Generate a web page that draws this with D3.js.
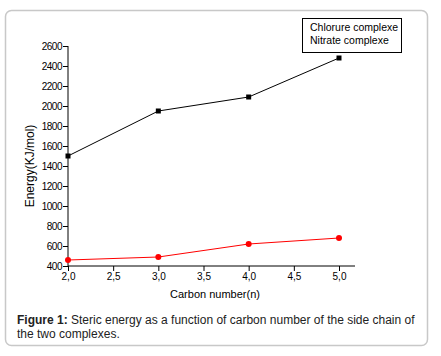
<!DOCTYPE html>
<html>
<head>
<meta charset="utf-8">
<script src="https://cdn.jsdelivr.net/npm/d3@7"></script>
<style>
  body { margin: 0; background: #fff; }
  svg { display: block; font-family: "Liberation Sans", Arial, sans-serif; }
</style>
</head>
<body>
<div id="chart"></div>
<script>
// carbon number of the side chain
const carbon = [2, 3, 4, 5];
// steric energy (KJ/mol)
const chlorure = [1500, 1950, 2090, 2480];
const nitrate = [460, 490, 620, 680];
const seriesNames = ["Chlorure complexe", "Nitrate complexe"];
const xTicks = [2, 2.5, 3, 3.5, 4, 4.5, 5];
const yTicks = [400, 600, 800, 1000, 1200, 1400, 1600, 1800, 2000, 2200, 2400, 2600];

const width = 441, height = 356;
const fmtX = d => d3.format(".1f")(d).replace(".", ",");

const svg = d3.select("#chart").append("svg")
    .attr("width", width)
    .attr("height", height);

// outer frame
svg.append("rect")
    .attr("x", 5.5).attr("y", 10.5)
    .attr("width", 422).attr("height", 335)
    .attr("rx", 6)
    .attr("fill", "#fff")
    .attr("stroke", "#c8c8c8")
    .attr("stroke-width", 1.5);

const x = d3.scaleLinear().domain([2, 5]).range([68, 339]);
const y = d3.scaleLinear().domain([400, 2600]).range([266, 46]);

// x axis
const xAxis = svg.append("g").attr("transform", "translate(0,266)");
xAxis.call(d3.axisBottom(x).tickValues(d3.range(2, 5.01, 0.25)).tickSize(3).tickFormat(""))
    .call(g => g.select(".domain").remove());
xAxis.call(d3.axisBottom(x).tickValues(xTicks).tickSize(5).tickPadding(2).tickFormat(fmtX))
    .call(g => g.selectAll("text").attr("font-size", 10).attr("fill", "#000").attr("font-family", "Liberation Sans, Arial, sans-serif"));
xAxis.select(".domain").attr("d", `M${x(2)},0H${x(5) + 16}`);

// y axis
const yAxis = svg.append("g").attr("transform", "translate(68,0)");
yAxis.call(d3.axisLeft(y).tickValues(d3.range(400, 2601, 100)).tickSize(3).tickFormat(""))
    .call(g => g.select(".domain").remove());
yAxis.call(d3.axisLeft(y).tickValues(yTicks).tickSize(5).tickPadding(1).tickFormat(d3.format("d")))
    .call(g => g.selectAll("text").attr("font-size", 10).attr("fill", "#000").attr("letter-spacing", -0.5).attr("font-family", "Liberation Sans, Arial, sans-serif"));
yAxis.select(".domain").attr("d", `M0,${y(400)}V${y(2600)}`);
svg.selectAll(".tick line").attr("stroke", "#000");
svg.selectAll(".domain").attr("stroke", "#000");

// axis titles
svg.append("text")
    .attr("x", 215).attr("y", 298)
    .attr("text-anchor", "middle")
    .attr("font-size", 11)
    .text("Carbon number(n)");
svg.append("text")
    .attr("transform", "translate(34,166) rotate(-90)")
    .attr("text-anchor", "middle")
    .attr("font-size", 12)
    .text("Energy(KJ/mol)");

// lines
const line = d3.line().x(d => x(d[0])).y(d => y(d[1]));
const black = carbon.map((c, i) => [c, chlorure[i]]);
const red = carbon.map((c, i) => [c, nitrate[i]]);

svg.append("path").datum(black)
    .attr("d", line).attr("fill", "none").attr("stroke", "#000").attr("stroke-width", 1);
svg.append("path").datum(red)
    .attr("d", line).attr("fill", "none").attr("stroke", "#ff0000").attr("stroke-width", 1);

svg.selectAll(".sq").data(black).join("rect")
    .attr("x", d => x(d[0]) - 2.5).attr("y", d => y(d[1]) - 2.5)
    .attr("width", 5).attr("height", 5)
    .attr("fill", "#000");
svg.selectAll(".dot").data(red).join("circle")
    .attr("cx", d => x(d[0])).attr("cy", d => y(d[1]))
    .attr("r", 3)
    .attr("fill", "#ff0000");

// legend
svg.append("rect")
    .attr("x", 302.5).attr("y", 18.5)
    .attr("width", 99).attr("height", 34)
    .attr("fill", "#fff").attr("stroke", "#000");
svg.selectAll(".leg").data(seriesNames).join("text")
    .attr("x", 310).attr("y", (d, i) => 31 + i * 13)
    .attr("font-size", 10.5)
    .text(d => d);

// caption
const cap = svg.append("text").attr("x", 17).attr("y", 324).attr("font-size", 12).attr("fill", "#222");
cap.append("tspan").attr("font-weight", "bold").text("Figure 1:");
cap.append("tspan").text(" Steric energy as a function of carbon number of the side chain of");
svg.append("text").attr("x", 17).attr("y", 338).attr("font-size", 12).attr("fill", "#222")
    .text("the two complexes.");
</script>
</body>
</html>
